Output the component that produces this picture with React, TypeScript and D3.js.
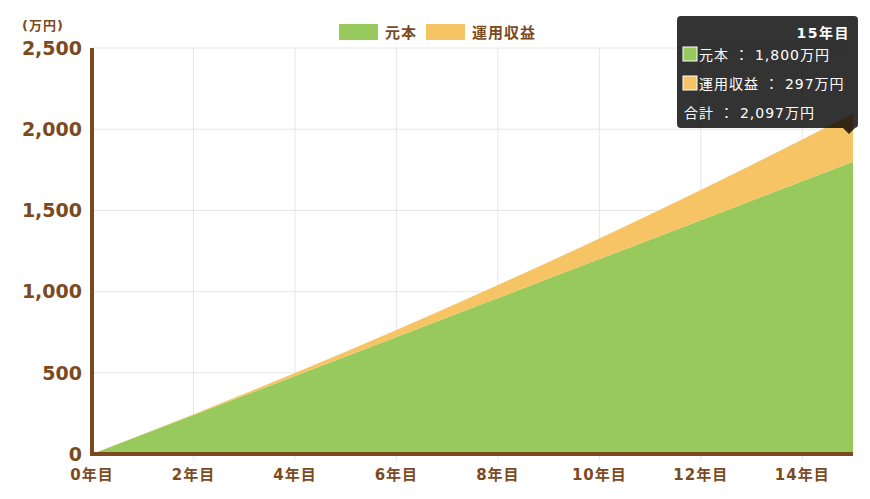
import { useEffect, useRef } from 'react'
import * as d3 from 'd3'

const years = [0, 1, 2, 3, 4, 5, 6, 7, 8, 9, 10, 11, 12, 13, 14, 15]
const principal = [0, 120, 240, 360, 480, 600, 720, 840, 960, 1080, 1200, 1320, 1440, 1560, 1680, 1800]
const profit = [0, 1, 5, 11, 19, 30, 44, 61, 80, 102, 127, 155, 186, 220, 257, 297]
const yTicks = [0, 500, 1000, 1500, 2000, 2500]
const xTicks = [0, 2, 4, 6, 8, 10, 12, 14]
const seriesNames = ['元本', '運用収益']
const colors = ['#97c95c', '#f6c465']

const W = 870
const H = 499
const margin = { top: 48, right: 17, bottom: 45, left: 92 }
const brown = '#7b4a1f'
const font = '"DejaVu Sans", "Noto Sans CJK JP", sans-serif'

export default function App() {
  const svgRef = useRef<SVGSVGElement>(null)

  useEffect(() => {
    if (!svgRef.current) return
    const root = d3.select(svgRef.current)
    root.selectAll('*').remove()

    const innerW = W - margin.left - margin.right
    const innerH = H - margin.top - margin.bottom

    const x = d3.scaleLinear().domain([0, 15]).range([0, innerW])
    const y = d3.scaleLinear().domain([0, 2500]).range([innerH, 0])

    const g = root.append('g').attr('transform', `translate(${margin.left},${margin.top})`)

    // grid
    g.append('g')
      .selectAll('line')
      .data(yTicks.slice(1))
      .enter()
      .append('line')
      .attr('x1', 0)
      .attr('x2', innerW)
      .attr('y1', d => y(d))
      .attr('y2', d => y(d))
      .attr('stroke', '#e6e6e6')
    g.append('g')
      .selectAll('line')
      .data(xTicks.slice(1))
      .enter()
      .append('line')
      .attr('x1', d => x(d))
      .attr('x2', d => x(d))
      .attr('y1', 0)
      .attr('y2', innerH + 6)
      .attr('stroke', '#e6e6e6')

    // stacked areas
    const rows = years.map((yr, i) => ({ year: yr, a: principal[i], b: profit[i] }))
    const stack = d3.stack<typeof rows[0]>().keys(['a', 'b'])(rows)
    const area = d3.area<d3.SeriesPoint<typeof rows[0]>>()
      .x(d => x(d.data.year))
      .y0(d => y(d[0]))
      .y1(d => y(d[1]))
    g.selectAll('path.area')
      .data(stack)
      .enter()
      .append('path')
      .attr('fill', (_, i) => colors[i])
      .attr('d', area)

    // axis lines
    g.append('line')
      .attr('x1', 0).attr('x2', 0)
      .attr('y1', 0).attr('y2', innerH + 2)
      .attr('stroke', brown).attr('stroke-width', 4)
    g.append('line')
      .attr('x1', -2).attr('x2', innerW)
      .attr('y1', innerH).attr('y2', innerH)
      .attr('stroke', brown).attr('stroke-width', 4)

    // y labels
    g.append('g')
      .selectAll('text')
      .data(yTicks)
      .enter()
      .append('text')
      .attr('x', -10)
      .attr('y', d => y(d))
      .attr('dy', '0.36em')
      .attr('text-anchor', 'end')
      .attr('fill', brown)
      .attr('font-size', 19)
      .attr('font-weight', 'bold')
      .attr('font-family', font)
      .text(d => d3.format(',')(d))

    // x labels
    g.append('g')
      .selectAll('text')
      .data(xTicks)
      .enter()
      .append('text')
      .attr('x', d => x(d))
      .attr('y', innerH + 26)
      .attr('text-anchor', 'middle')
      .attr('fill', brown)
      .attr('font-size', 15)
      .attr('font-weight', 'bold')
      .attr('letter-spacing', 1)
      .attr('font-family', font)
      .text(d => `${d}年目`)

    // unit
    root.append('text')
      .attr('x', 22).attr('y', 30)
      .attr('fill', brown)
      .attr('font-size', 13)
      .attr('font-weight', 'bold')
      .attr('letter-spacing', 1)
      .attr('font-family', font)
      .text('(万円)')

    // legend
    const legendX = [339, 426]
    seriesNames.forEach((name, i) => {
      root.append('rect')
        .attr('x', legendX[i]).attr('y', 24)
        .attr('width', 39).attr('height', 16)
        .attr('fill', colors[i])
      root.append('text')
        .attr('x', legendX[i] + 46).attr('y', 38)
        .attr('fill', brown)
        .attr('font-size', 15)
        .attr('font-weight', 'bold')
        .attr('letter-spacing', 1)
        .attr('font-family', font)
        .text(name)
    })

    // tooltip
    const last = years.length - 1
    const total = principal[last] + profit[last]
    const px = margin.left + x(years[last])
    const tip = root.append('g')
    tip.append('rect')
      .attr('x', 677).attr('y', 16)
      .attr('width', 181).attr('height', 112)
      .attr('rx', 4)
      .attr('fill', 'rgba(0,0,0,0.8)')
    tip.append('path')
      .attr('d', `M${px - 10},128 L${px - 4},134 L${px + 2},128 Z`)
      .attr('fill', 'rgba(0,0,0,0.8)')
    tip.append('text')
      .attr('x', 850).attr('y', 38)
      .attr('text-anchor', 'end')
      .attr('fill', '#fff')
      .attr('font-size', 14)
      .attr('font-weight', 'bold')
      .attr('letter-spacing', 1.5)
      .attr('font-family', font)
      .text(`${years[last]}年目`)
    const lines = [
      `${seriesNames[0]} ： ${d3.format(',')(principal[last])}万円`,
      `${seriesNames[1]} ： ${d3.format(',')(profit[last])}万円`
    ]
    lines.forEach((t, i) => {
      const ly = 47 + i * 29
      tip.append('rect')
        .attr('x', 683).attr('y', ly)
        .attr('width', 14).attr('height', 14)
        .attr('fill', colors[i])
        .attr('stroke', '#fff').attr('stroke-width', 1)
      tip.append('text')
        .attr('x', 699).attr('y', ly + 13)
        .attr('fill', '#fff')
        .attr('font-size', 14)
        .attr('letter-spacing', 1)
        .attr('font-family', font)
        .text(t)
    })
    tip.append('text')
      .attr('x', 684).attr('y', 118)
      .attr('fill', '#fff')
      .attr('font-size', 14)
      .attr('letter-spacing', 1)
      .attr('font-family', font)
      .text(`合計 ： ${d3.format(',')(total)}万円`)
  }, [])

  return (
    <svg
      ref={svgRef}
      width={W}
      height={H}
      style={{ position: 'absolute', left: 0, top: 0, background: '#fff' }}
    />
  )
}
